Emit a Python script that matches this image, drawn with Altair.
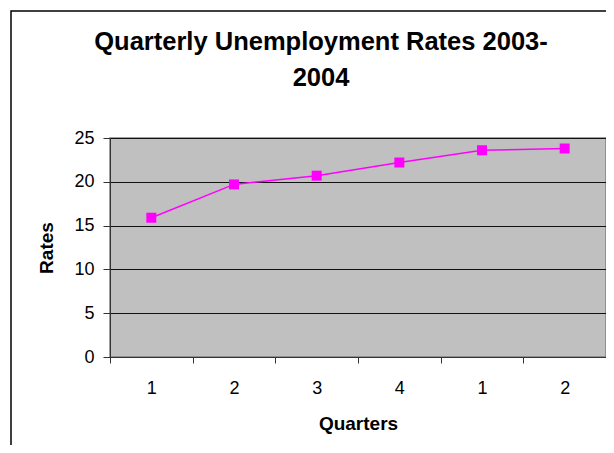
import altair as alt
import pandas as pd

# Data
years = ["2003", "2003", "2003", "2003", "2004", "2004"]
quarters = ["1", "2", "3", "4", "1", "2"]
rates = [15.9, 19.7, 20.7, 22.2, 23.6, 23.8]
y_ticks = [0, 5, 10, 15, 20, 25]

keys = [f"{y}-{q}" for y, q in zip(years, quarters)]
df = pd.DataFrame({"key": keys, "quarter": quarters, "rate": rates})

FONT = "Liberation Sans"
W, H = 496, 219

frame = alt.Chart(pd.DataFrame({"a": [0]})).mark_rect(
    filled=False, stroke="#000000", strokeWidth=1.5
).encode(
    x=alt.value(-99), x2=alt.value(W + 40),
    y=alt.value(-127), y2=alt.value(H + 120),
)

x_enc = alt.X(
    "key:N",
    sort=keys,
    bandPosition=0.5,
    scale=alt.Scale(type="band", paddingInner=0, paddingOuter=0),
    axis=alt.Axis(
        title="Quarters",
        labelExpr="slice(datum.label, -1)",
        tickBand="extent",
        labelAngle=0,
        grid=False,
        domainColor="#333333",
        tickColor="#333333",
        tickSize=6,
        labelPadding=16,
        labelFont=FONT, labelFontSize=18, labelColor="#000000",
        titleFont=FONT, titleFontSize=19, titleFontWeight="bold", titleColor="#000000",
        titleX=W / 2, titleY=66, titleBaseline="middle", titleAlign="center",
    ),
)
y_enc = alt.Y(
    "rate:Q",
    scale=alt.Scale(domain=[0, 25], nice=False, zero=True),
    axis=alt.Axis(
        title="Rates",
        values=y_ticks,
        grid=True, gridColor="#111111", gridWidth=1,
        domainColor="#333333", tickColor="#333333", tickSize=7,
        labelPadding=9,
        labelFont=FONT, labelFontSize=18, labelColor="#000000",
        titleFont=FONT, titleFontSize=19, titleFontWeight="bold", titleColor="#000000",
        titleAngle=270, titleX=-64, titleY=H / 2,
        titleBaseline="middle", titleAlign="center",
    ),
)

line = alt.Chart(df).mark_line(
    color="#FF00FF", strokeWidth=1.5,
    point=alt.OverlayMarkDef(shape="square", size=100, filled=True, color="#FF00FF", opacity=1),
).encode(x=x_enc, y=y_enc)

chart = alt.layer(frame, line).properties(
    width=W, height=H,
    title=alt.Title(
        ["Quarterly Unemployment Rates 2003-", "2004"],
        font=FONT, fontSize=25.5, fontWeight="bold", color="#000000",
        anchor="middle", dx=-37, baseline="top",
        offset=0, dy=81, lineHeight=36,
    ),
    autosize=alt.AutoSizeParams(type="none"),
    padding={"left": 102, "top": 130, "right": 0, "bottom": 88},
).configure(
    background="#FFFFFF",
    view=alt.ViewConfig(fill="#C0C0C0", stroke="#808080", strokeWidth=1.5),
)

chart.save("out.html", embed_options={"renderer": "svg", "actions": False})
